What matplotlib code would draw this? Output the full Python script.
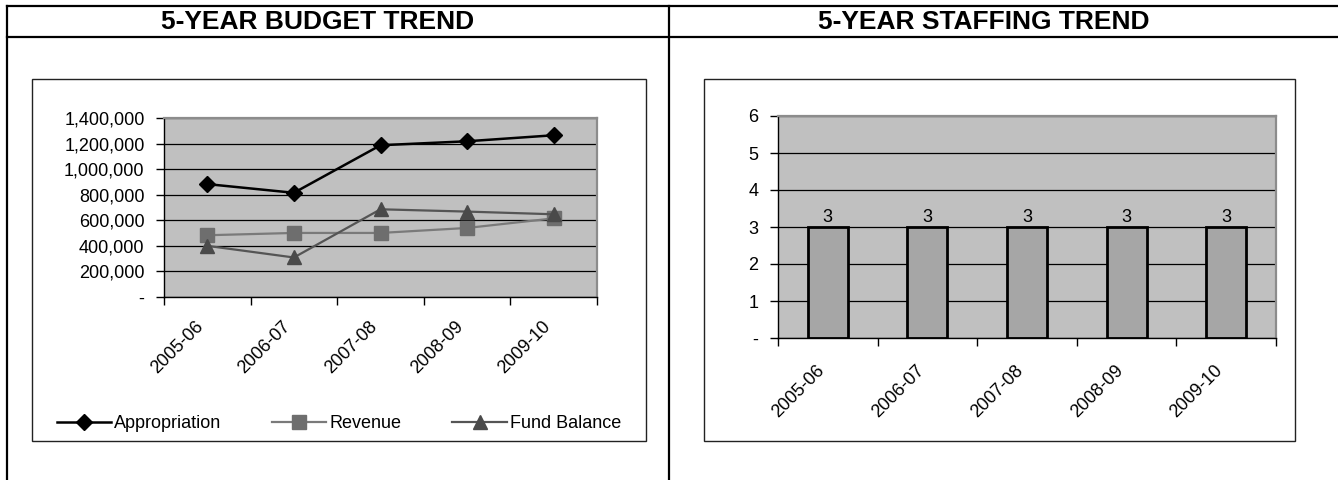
import matplotlib
matplotlib.use("Agg")
import matplotlib.pyplot as plt
from matplotlib.lines import Line2D
from matplotlib.patches import Rectangle
from matplotlib.ticker import FuncFormatter, FixedLocator

plt.rcParams['font.family'] = ['Liberation Sans', 'DejaVu Sans']

years = ['2005-06', '2006-07', '2007-08', '2008-09', '2009-10']
appropriation = [883000, 815000, 1187000, 1218000, 1265000]
revenue = [483000, 501000, 501000, 540000, 615000]
fund_balance = [400000, 309000, 686000, 668000, 647000]
staffing = [3, 3, 3, 3, 3]

W, H = 1338, 480
fig = plt.figure(figsize=(W / 100, H / 100), dpi=100)


def fx(px):
    return px / W


def fy(py):
    return 1 - py / H


# table frame
lk = dict(color='black', lw=1.6, transform=fig.transFigure)
fig.add_artist(Line2D([fx(7), 1], [fy(6), fy(6)], **lk))
fig.add_artist(Line2D([fx(7), 1], [fy(37), fy(37)], **lk))
fig.add_artist(Line2D([fx(7), fx(7)], [fy(6), 0], **lk))
fig.add_artist(Line2D([fx(669), fx(669)], [fy(6), 0], **lk))
fig.text(fx(318), fy(22), '5-YEAR BUDGET TREND', ha='center', va='center',
         fontsize=19, fontweight='bold')
fig.text(fx(984), fy(22), '5-YEAR STAFFING TREND', ha='center', va='center',
         fontsize=19, fontweight='bold')

# chart boxes
for x0, x1 in [(32, 646), (704, 1295)]:
    fig.add_artist(Rectangle((fx(x0), fy(441)), fx(x1) - fx(x0), fy(79) - fy(441),
                             transform=fig.transFigure, fill=False,
                             edgecolor='#222222', lw=1.0))

pos = list(range(len(years)))


def style_axes(ax, n):
    ax.set_facecolor('#c0c0c0')
    ax.set_xlim(-0.5, n - 0.5)
    ax.xaxis.set_major_locator(FixedLocator([i - 0.5 for i in range(n + 1)]))
    ax.xaxis.set_major_formatter(FuncFormatter(lambda v, p: ''))
    ax.xaxis.set_minor_locator(FixedLocator(pos))
    ax.set_xticklabels(years, minor=True, rotation=45, ha='right')
    ax.tick_params(axis='x', which='major', length=6, width=1, direction='out')
    ax.tick_params(axis='x', which='minor', length=0, pad=15, labelsize=13)
    ax.tick_params(axis='y', length=6, width=1, direction='out', pad=8, labelsize=13)
    ax.grid(axis='y', color='black', lw=0.9)
    ax.set_axisbelow(True)
    for s in ['top', 'right']:
        ax.spines[s].set_color('#8c8c8c')
        ax.spines[s].set_linewidth(1.6)
    for s in ['left', 'bottom']:
        ax.spines[s].set_color('black')
        ax.spines[s].set_linewidth(1.0)


# budget trend
ax1 = fig.add_axes([fx(164), fy(297), fx(597) - fx(164), fy(118) - fy(297)])
style_axes(ax1, len(years))
ax1.set_ylim(0, 1400000)
ax1.set_yticks(range(0, 1400001, 200000))
ax1.yaxis.set_major_formatter(FuncFormatter(lambda v, p: '-' if v == 0 else f'{v:,.0f}'))
ax1.plot(pos, appropriation, color='black', lw=1.8, marker='D', markersize=8.5,
         label='Appropriation', clip_on=False, zorder=5)
ax1.plot(pos, revenue, color='#7a7a7a', lw=1.6, marker='s', markersize=9.5,
         markerfacecolor='#6e6e6e', markeredgecolor='#6e6e6e',
         label='Revenue', clip_on=False, zorder=4)
ax1.plot(pos, fund_balance, color='#555555', lw=1.6, marker='^', markersize=10,
         markerfacecolor='#4a4a4a', markeredgecolor='#4a4a4a',
         label='Fund Balance', clip_on=False, zorder=4)
h, l = ax1.get_legend_handles_labels()
fig.legend(h, l, loc='center', bbox_to_anchor=(fx(339), fy(424)), ncol=3,
           frameon=False, fontsize=13, handlelength=3.0, handletextpad=0.2,
           columnspacing=2.8)

# staffing trend
ax2 = fig.add_axes([fx(778), fy(338), fx(1276) - fx(778), fy(116) - fy(338)])
style_axes(ax2, len(years))
ax2.set_ylim(0, 6)
ax2.set_yticks(range(0, 7))
ax2.yaxis.set_major_formatter(FuncFormatter(lambda v, p: '-' if v == 0 else f'{v:.0f}'))
ax2.tick_params(axis='x', which='minor', pad=17)
bars = ax2.bar(pos, staffing, width=0.4, color='#a6a6a6', edgecolor='black', lw=2.0)
ax2.bar_label(bars, labels=[str(v) for v in staffing], padding=1, fontsize=13)

fig.savefig('out.png', dpi=100)
